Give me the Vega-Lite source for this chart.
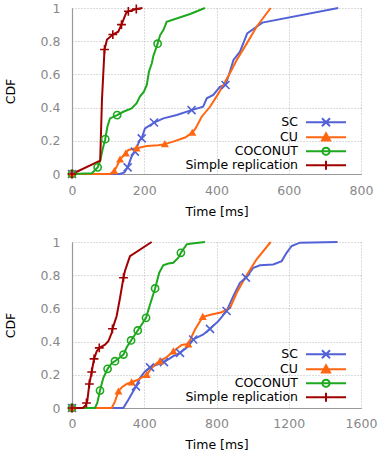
{
  "$schema": "https://vega.github.io/schema/vega-lite/v6.json",
  "padding": {"left": 4, "top": 1, "right": 8, "bottom": 4},
  "spacing": 18,
  "config": {
    "font": "DejaVu Sans",
    "view": {"stroke": null},
    "axis": {
      "labelFont": "DejaVu Sans", "labelFontSize": 12.5, "labelColor": "#888",
      "titleFont": "DejaVu Sans", "titleFontSize": 12.5, "titleFontWeight": "normal", "titleColor": "#000",
      "domainColor": "#999", "domainWidth": 1.2, "gridColor": "#b8b8b8", "gridDash": [1, 2], "gridWidth": 1, "ticks": false,
      "labelOverlap": false, "labelFlush": false, "labelBound": false
    },
    "legend": {
      "labelFont": "DejaVu Sans", "labelFontSize": 12.5, "labelColor": "#000", "padding": 0, "rowPadding": -4, "symbolSize": 36
    }
  },
  "datasets": {
    "top_lines": [
      {"series": "SC", "t": 0, "cdf": 0}, {"series": "SC", "t": 133, "cdf": 0}, {"series": "SC", "t": 145, "cdf": 0.01}, {"series": "SC", "t": 154, "cdf": 0.04}, {"series": "SC", "t": 165, "cdf": 0.105}, {"series": "SC", "t": 174, "cdf": 0.135}, {"series": "SC", "t": 188, "cdf": 0.205}, {"series": "SC", "t": 193, "cdf": 0.215}, {"series": "SC", "t": 202, "cdf": 0.275}, {"series": "SC", "t": 221, "cdf": 0.3}, {"series": "SC", "t": 227, "cdf": 0.31}, {"series": "SC", "t": 253, "cdf": 0.335}, {"series": "SC", "t": 290, "cdf": 0.355}, {"series": "SC", "t": 331, "cdf": 0.385}, {"series": "SC", "t": 363, "cdf": 0.405}, {"series": "SC", "t": 373, "cdf": 0.456}, {"series": "SC", "t": 391, "cdf": 0.476}, {"series": "SC", "t": 410, "cdf": 0.526}, {"series": "SC", "t": 425, "cdf": 0.536}, {"series": "SC", "t": 437, "cdf": 0.616}, {"series": "SC", "t": 447, "cdf": 0.687}, {"series": "SC", "t": 465, "cdf": 0.737}, {"series": "SC", "t": 485, "cdf": 0.847}, {"series": "SC", "t": 511, "cdf": 0.887}, {"series": "SC", "t": 527, "cdf": 0.912}, {"series": "SC", "t": 737, "cdf": 1},
      {"series": "CU", "t": 0, "cdf": 0}, {"series": "CU", "t": 105, "cdf": 0}, {"series": "CU", "t": 117, "cdf": 0.018}, {"series": "CU", "t": 125, "cdf": 0.05}, {"series": "CU", "t": 133, "cdf": 0.088}, {"series": "CU", "t": 149, "cdf": 0.125}, {"series": "CU", "t": 156, "cdf": 0.145}, {"series": "CU", "t": 179, "cdf": 0.155}, {"series": "CU", "t": 207, "cdf": 0.169}, {"series": "CU", "t": 239, "cdf": 0.173}, {"series": "CU", "t": 257, "cdf": 0.18}, {"series": "CU", "t": 280, "cdf": 0.195}, {"series": "CU", "t": 313, "cdf": 0.22}, {"series": "CU", "t": 333, "cdf": 0.249}, {"series": "CU", "t": 342, "cdf": 0.275}, {"series": "CU", "t": 359, "cdf": 0.345}, {"series": "CU", "t": 382, "cdf": 0.405}, {"series": "CU", "t": 400, "cdf": 0.466}, {"series": "CU", "t": 419, "cdf": 0.536}, {"series": "CU", "t": 437, "cdf": 0.607}, {"series": "CU", "t": 456, "cdf": 0.687}, {"series": "CU", "t": 484, "cdf": 0.787}, {"series": "CU", "t": 511, "cdf": 0.887}, {"series": "CU", "t": 550, "cdf": 1},
      {"series": "COCONUT", "t": 0, "cdf": 0}, {"series": "COCONUT", "t": 55, "cdf": 0.005}, {"series": "COCONUT", "t": 71, "cdf": 0.04}, {"series": "COCONUT", "t": 78, "cdf": 0.08}, {"series": "COCONUT", "t": 85, "cdf": 0.15}, {"series": "COCONUT", "t": 92, "cdf": 0.21}, {"series": "COCONUT", "t": 98, "cdf": 0.285}, {"series": "COCONUT", "t": 105, "cdf": 0.335}, {"series": "COCONUT", "t": 125, "cdf": 0.355}, {"series": "COCONUT", "t": 142, "cdf": 0.375}, {"series": "COCONUT", "t": 165, "cdf": 0.395}, {"series": "COCONUT", "t": 179, "cdf": 0.426}, {"series": "COCONUT", "t": 188, "cdf": 0.466}, {"series": "COCONUT", "t": 199, "cdf": 0.496}, {"series": "COCONUT", "t": 207, "cdf": 0.536}, {"series": "COCONUT", "t": 213, "cdf": 0.616}, {"series": "COCONUT", "t": 221, "cdf": 0.667}, {"series": "COCONUT", "t": 225, "cdf": 0.71}, {"series": "COCONUT", "t": 237, "cdf": 0.785}, {"series": "COCONUT", "t": 244, "cdf": 0.837}, {"series": "COCONUT", "t": 253, "cdf": 0.867}, {"series": "COCONUT", "t": 262, "cdf": 0.917}, {"series": "COCONUT", "t": 327, "cdf": 0.964}, {"series": "COCONUT", "t": 368, "cdf": 1},
      {"series": "Simple replication", "t": 0, "cdf": 0}, {"series": "Simple replication", "t": 78, "cdf": 0.08}, {"series": "Simple replication", "t": 83, "cdf": 0.45}, {"series": "Simple replication", "t": 90, "cdf": 0.75}, {"series": "Simple replication", "t": 97, "cdf": 0.81}, {"series": "Simple replication", "t": 113, "cdf": 0.84}, {"series": "Simple replication", "t": 128, "cdf": 0.857}, {"series": "Simple replication", "t": 137, "cdf": 0.9}, {"series": "Simple replication", "t": 150, "cdf": 0.97}, {"series": "Simple replication", "t": 156, "cdf": 0.98}, {"series": "Simple replication", "t": 178, "cdf": 0.994}, {"series": "Simple replication", "t": 195, "cdf": 1}
    ],
    "top_marks": [
      {"series": "SC", "t": 0, "cdf": 0}, {"series": "SC", "t": 154, "cdf": 0.04}, {"series": "SC", "t": 174, "cdf": 0.135}, {"series": "SC", "t": 193, "cdf": 0.215}, {"series": "SC", "t": 227, "cdf": 0.31}, {"series": "SC", "t": 331, "cdf": 0.385}, {"series": "SC", "t": 425, "cdf": 0.536},
      {"series": "CU", "t": 0, "cdf": 0}, {"series": "CU", "t": 117, "cdf": 0.018}, {"series": "CU", "t": 133, "cdf": 0.088}, {"series": "CU", "t": 149, "cdf": 0.125}, {"series": "CU", "t": 179, "cdf": 0.155}, {"series": "CU", "t": 257, "cdf": 0.18}, {"series": "CU", "t": 333, "cdf": 0.249},
      {"series": "COCONUT", "t": 0, "cdf": 0}, {"series": "COCONUT", "t": 71, "cdf": 0.04}, {"series": "COCONUT", "t": 92, "cdf": 0.21}, {"series": "COCONUT", "t": 125, "cdf": 0.355}, {"series": "COCONUT", "t": 237, "cdf": 0.785},
      {"series": "Simple replication", "t": 0, "cdf": 0}, {"series": "Simple replication", "t": 90, "cdf": 0.75}, {"series": "Simple replication", "t": 113, "cdf": 0.84}, {"series": "Simple replication", "t": 137, "cdf": 0.9}, {"series": "Simple replication", "t": 156, "cdf": 0.98}, {"series": "Simple replication", "t": 178, "cdf": 0.994}
    ],
    "bot_lines": [
      {"series": "SC", "t": 0, "cdf": 0}, {"series": "SC", "t": 284, "cdf": 0}, {"series": "SC", "t": 312, "cdf": 0.05}, {"series": "SC", "t": 354, "cdf": 0.13}, {"series": "SC", "t": 376, "cdf": 0.18}, {"series": "SC", "t": 404, "cdf": 0.22}, {"series": "SC", "t": 432, "cdf": 0.245}, {"series": "SC", "t": 478, "cdf": 0.265}, {"series": "SC", "t": 509, "cdf": 0.276}, {"series": "SC", "t": 561, "cdf": 0.312}, {"series": "SC", "t": 598, "cdf": 0.332}, {"series": "SC", "t": 644, "cdf": 0.372}, {"series": "SC", "t": 671, "cdf": 0.413}, {"series": "SC", "t": 727, "cdf": 0.443}, {"series": "SC", "t": 764, "cdf": 0.477}, {"series": "SC", "t": 810, "cdf": 0.523}, {"series": "SC", "t": 856, "cdf": 0.584}, {"series": "SC", "t": 893, "cdf": 0.674}, {"series": "SC", "t": 930, "cdf": 0.754}, {"series": "SC", "t": 963, "cdf": 0.785}, {"series": "SC", "t": 1004, "cdf": 0.845}, {"series": "SC", "t": 1041, "cdf": 0.86}, {"series": "SC", "t": 1114, "cdf": 0.865}, {"series": "SC", "t": 1161, "cdf": 0.885}, {"series": "SC", "t": 1188, "cdf": 0.935}, {"series": "SC", "t": 1216, "cdf": 0.976}, {"series": "SC", "t": 1262, "cdf": 0.996}, {"series": "SC", "t": 1470, "cdf": 1},
      {"series": "CU", "t": 0, "cdf": 0}, {"series": "CU", "t": 220, "cdf": 0}, {"series": "CU", "t": 238, "cdf": 0.04}, {"series": "CU", "t": 257, "cdf": 0.1}, {"series": "CU", "t": 276, "cdf": 0.125}, {"series": "CU", "t": 303, "cdf": 0.145}, {"series": "CU", "t": 330, "cdf": 0.155}, {"series": "CU", "t": 358, "cdf": 0.167}, {"series": "CU", "t": 414, "cdf": 0.2}, {"series": "CU", "t": 441, "cdf": 0.241}, {"series": "CU", "t": 470, "cdf": 0.271}, {"series": "CU", "t": 487, "cdf": 0.282}, {"series": "CU", "t": 524, "cdf": 0.306}, {"series": "CU", "t": 561, "cdf": 0.342}, {"series": "CU", "t": 607, "cdf": 0.38}, {"series": "CU", "t": 644, "cdf": 0.386}, {"series": "CU", "t": 681, "cdf": 0.473}, {"series": "CU", "t": 724, "cdf": 0.549}, {"series": "CU", "t": 773, "cdf": 0.563}, {"series": "CU", "t": 829, "cdf": 0.577}, {"series": "CU", "t": 875, "cdf": 0.603}, {"series": "CU", "t": 912, "cdf": 0.694}, {"series": "CU", "t": 958, "cdf": 0.785}, {"series": "CU", "t": 1022, "cdf": 0.896}, {"series": "CU", "t": 1100, "cdf": 1},
      {"series": "COCONUT", "t": 0, "cdf": 0}, {"series": "COCONUT", "t": 127, "cdf": 0}, {"series": "COCONUT", "t": 140, "cdf": 0.03}, {"series": "COCONUT", "t": 155, "cdf": 0.105}, {"series": "COCONUT", "t": 173, "cdf": 0.18}, {"series": "COCONUT", "t": 197, "cdf": 0.236}, {"series": "COCONUT", "t": 220, "cdf": 0.27}, {"series": "COCONUT", "t": 238, "cdf": 0.282}, {"series": "COCONUT", "t": 266, "cdf": 0.306}, {"series": "COCONUT", "t": 285, "cdf": 0.322}, {"series": "COCONUT", "t": 303, "cdf": 0.366}, {"series": "COCONUT", "t": 327, "cdf": 0.407}, {"series": "COCONUT", "t": 349, "cdf": 0.443}, {"series": "COCONUT", "t": 364, "cdf": 0.467}, {"series": "COCONUT", "t": 386, "cdf": 0.503}, {"series": "COCONUT", "t": 410, "cdf": 0.543}, {"series": "COCONUT", "t": 432, "cdf": 0.624}, {"series": "COCONUT", "t": 460, "cdf": 0.72}, {"series": "COCONUT", "t": 483, "cdf": 0.815}, {"series": "COCONUT", "t": 505, "cdf": 0.86}, {"series": "COCONUT", "t": 533, "cdf": 0.87}, {"series": "COCONUT", "t": 561, "cdf": 0.875}, {"series": "COCONUT", "t": 589, "cdf": 0.905}, {"series": "COCONUT", "t": 603, "cdf": 0.935}, {"series": "COCONUT", "t": 635, "cdf": 0.986}, {"series": "COCONUT", "t": 653, "cdf": 0.99}, {"series": "COCONUT", "t": 736, "cdf": 1},
      {"series": "Simple replication", "t": 0, "cdf": 0}, {"series": "Simple replication", "t": 60, "cdf": 0}, {"series": "Simple replication", "t": 76, "cdf": 0.016}, {"series": "Simple replication", "t": 85, "cdf": 0.045}, {"series": "Simple replication", "t": 96, "cdf": 0.145}, {"series": "Simple replication", "t": 109, "cdf": 0.217}, {"series": "Simple replication", "t": 122, "cdf": 0.296}, {"series": "Simple replication", "t": 137, "cdf": 0.342}, {"series": "Simple replication", "t": 151, "cdf": 0.362}, {"series": "Simple replication", "t": 183, "cdf": 0.382}, {"series": "Simple replication", "t": 201, "cdf": 0.402}, {"series": "Simple replication", "t": 220, "cdf": 0.453}, {"series": "Simple replication", "t": 224, "cdf": 0.477}, {"series": "Simple replication", "t": 238, "cdf": 0.523}, {"series": "Simple replication", "t": 247, "cdf": 0.553}, {"series": "Simple replication", "t": 266, "cdf": 0.664}, {"series": "Simple replication", "t": 285, "cdf": 0.785}, {"series": "Simple replication", "t": 293, "cdf": 0.825}, {"series": "Simple replication", "t": 321, "cdf": 0.915}, {"series": "Simple replication", "t": 441, "cdf": 1}
    ],
    "bot_marks": [
      {"series": "SC", "t": 0, "cdf": 0}, {"series": "SC", "t": 354, "cdf": 0.13}, {"series": "SC", "t": 432, "cdf": 0.245}, {"series": "SC", "t": 509, "cdf": 0.276}, {"series": "SC", "t": 598, "cdf": 0.332}, {"series": "SC", "t": 671, "cdf": 0.413}, {"series": "SC", "t": 764, "cdf": 0.477}, {"series": "SC", "t": 856, "cdf": 0.584}, {"series": "SC", "t": 963, "cdf": 0.785},
      {"series": "CU", "t": 0, "cdf": 0}, {"series": "CU", "t": 257, "cdf": 0.1}, {"series": "CU", "t": 330, "cdf": 0.155}, {"series": "CU", "t": 414, "cdf": 0.2}, {"series": "CU", "t": 487, "cdf": 0.282}, {"series": "CU", "t": 561, "cdf": 0.342}, {"series": "CU", "t": 644, "cdf": 0.384}, {"series": "CU", "t": 724, "cdf": 0.549},
      {"series": "COCONUT", "t": 0, "cdf": 0}, {"series": "COCONUT", "t": 155, "cdf": 0.105}, {"series": "COCONUT", "t": 197, "cdf": 0.236}, {"series": "COCONUT", "t": 238, "cdf": 0.282}, {"series": "COCONUT", "t": 285, "cdf": 0.322}, {"series": "COCONUT", "t": 327, "cdf": 0.407}, {"series": "COCONUT", "t": 364, "cdf": 0.467}, {"series": "COCONUT", "t": 410, "cdf": 0.543}, {"series": "COCONUT", "t": 460, "cdf": 0.72}, {"series": "COCONUT", "t": 603, "cdf": 0.935},
      {"series": "Simple replication", "t": 0, "cdf": 0}, {"series": "Simple replication", "t": 80, "cdf": 0.03}, {"series": "Simple replication", "t": 96, "cdf": 0.145}, {"series": "Simple replication", "t": 109, "cdf": 0.217}, {"series": "Simple replication", "t": 122, "cdf": 0.296}, {"series": "Simple replication", "t": 151, "cdf": 0.362}, {"series": "Simple replication", "t": 224, "cdf": 0.477}, {"series": "Simple replication", "t": 285, "cdf": 0.785}
    ]
  },
  "resolve": {
    "scale": {"x": "independent", "y": "independent", "color": "independent"},
    "legend": {"color": "independent"}
  },
  "vconcat": [
    {
      "width": 289, "height": 166,
      "layer": [
        {
          "data": {"name": "top_lines"},
          "mark": {"type": "line", "strokeWidth": 2},
          "encoding": {
            "x": {"field": "t", "type": "quantitative", "title": "Time [ms]", "scale": {"domain": [0, 800], "nice": false, "zero": false}, "axis": {"values": [0, 200, 400, 600, 800], "tickCount": 10, "format": "d", "labelPadding": 10, "titlePadding": 9}},
            "y": {"field": "cdf", "type": "quantitative", "title": "CDF", "scale": {"domain": [0, 1], "nice": false}, "axis": {"values": [0, 0.2, 0.4, 0.6, 0.8, 1], "tickCount": 10, "format": ".1~f", "labelPadding": 12, "titlePadding": 23}},
            "color": {"field": "series", "type": "nominal", "scale": {"domain": ["SC", "CU", "COCONUT", "Simple replication"], "range": ["#5262d6", "#ff6611", "#1ea81e", "#a00000"]},
              "legend": {"title": null, "orient": "none", "legendX": 200, "legendY": 108, "direction": "vertical",
                "encode": {
                  "symbols": {"update": {
                    "shape": {"signal": "datum.value === 'SC' ? 'M-5,0L5,0M-1,-1L1,1M-1,1L1,-1' : datum.value === 'CU' ? 'M-5,0L5,0M0,-1L1,0.8L-1,0.8Z' : datum.value === 'COCONUT' ? 'M-5,0L5,0M0.9,0A0.9,0.9,0,1,1,-0.9,0A0.9,0.9,0,1,1,0.9,0' : 'M-5,0L5,0M0,-1.1L0,1.1'"},
                    "fill": {"signal": "datum.value === 'CU' ? '#ff6611' : 'transparent'"},
                    "fillOpacity": {"signal": "datum.value === 'CU' ? 1 : 0"},
                    "size": {"value": 64}, "strokeWidth": {"value": 2}, "x": {"value": 54}, "opacity": {"value": 1}
                  }},
                  "labels": {"update": {"x": {"value": 26}, "align": {"value": "right"}}}
                }}
            }
          }
        },
        {
          "data": {"name": "top_marks"}, "transform": [{"filter": "datum.series === 'SC'"}],
          "mark": {"type": "point", "shape": "M-1,-1L1,1M-1,1L1,-1", "filled": false, "size": 64, "strokeWidth": 1.6, "opacity": 1},
          "encoding": {"x": {"field": "t", "type": "quantitative"}, "y": {"field": "cdf", "type": "quantitative"}, "color": {"field": "series", "type": "nominal", "legend": null}}
        },
        {
          "data": {"name": "top_marks"}, "transform": [{"filter": "datum.series === 'CU'"}],
          "mark": {"type": "point", "shape": "M0,-1L1,0.8L-1,0.8Z", "filled": true, "size": 64, "strokeWidth": 1, "opacity": 1},
          "encoding": {"x": {"field": "t", "type": "quantitative"}, "y": {"field": "cdf", "type": "quantitative"}, "color": {"field": "series", "type": "nominal", "legend": null}}
        },
        {
          "data": {"name": "top_marks"}, "transform": [{"filter": "datum.series === 'COCONUT'"}],
          "mark": {"type": "point", "shape": "circle", "filled": false, "size": 52, "strokeWidth": 1.6, "opacity": 1},
          "encoding": {"x": {"field": "t", "type": "quantitative"}, "y": {"field": "cdf", "type": "quantitative"}, "color": {"field": "series", "type": "nominal", "legend": null}}
        },
        {
          "data": {"name": "top_marks"}, "transform": [{"filter": "datum.series === 'Simple replication'"}],
          "mark": {"type": "point", "shape": "M-1.1,0L1.1,0M0,-1.1L0,1.1", "filled": false, "size": 64, "strokeWidth": 1.6, "opacity": 1},
          "encoding": {"x": {"field": "t", "type": "quantitative"}, "y": {"field": "cdf", "type": "quantitative"}, "color": {"field": "series", "type": "nominal", "legend": null}}
        }
      ]
    },
    {
      "width": 289, "height": 166,
      "layer": [
        {
          "data": {"name": "bot_lines"},
          "mark": {"type": "line", "strokeWidth": 2},
          "encoding": {
            "x": {"field": "t", "type": "quantitative", "title": "Time [ms]", "scale": {"domain": [0, 1600], "nice": false, "zero": false}, "axis": {"values": [0, 400, 800, 1200, 1600], "tickCount": 10, "format": "d", "labelPadding": 9, "titlePadding": 9}},
            "y": {"field": "cdf", "type": "quantitative", "title": "CDF", "scale": {"domain": [0, 1], "nice": false}, "axis": {"values": [0, 0.2, 0.4, 0.6, 0.8, 1], "tickCount": 10, "format": ".1~f", "labelPadding": 12, "titlePadding": 23}},
            "color": {"field": "series", "type": "nominal", "scale": {"domain": ["SC", "CU", "COCONUT", "Simple replication"], "range": ["#5262d6", "#ff6611", "#1ea81e", "#a00000"]},
              "legend": {"title": null, "orient": "none", "legendX": 200, "legendY": 106, "direction": "vertical",
                "encode": {
                  "symbols": {"update": {
                    "shape": {"signal": "datum.value === 'SC' ? 'M-5,0L5,0M-1,-1L1,1M-1,1L1,-1' : datum.value === 'CU' ? 'M-5,0L5,0M0,-1L1,0.8L-1,0.8Z' : datum.value === 'COCONUT' ? 'M-5,0L5,0M0.9,0A0.9,0.9,0,1,1,-0.9,0A0.9,0.9,0,1,1,0.9,0' : 'M-5,0L5,0M0,-1.1L0,1.1'"},
                    "fill": {"signal": "datum.value === 'CU' ? '#ff6611' : 'transparent'"},
                    "fillOpacity": {"signal": "datum.value === 'CU' ? 1 : 0"},
                    "size": {"value": 64}, "strokeWidth": {"value": 2}, "x": {"value": 54}, "opacity": {"value": 1}
                  }},
                  "labels": {"update": {"x": {"value": 26}, "align": {"value": "right"}}}
                }}
            }
          }
        },
        {
          "data": {"name": "bot_marks"}, "transform": [{"filter": "datum.series === 'SC'"}],
          "mark": {"type": "point", "shape": "M-1,-1L1,1M-1,1L1,-1", "filled": false, "size": 64, "strokeWidth": 1.6, "opacity": 1},
          "encoding": {"x": {"field": "t", "type": "quantitative"}, "y": {"field": "cdf", "type": "quantitative"}, "color": {"field": "series", "type": "nominal", "legend": null}}
        },
        {
          "data": {"name": "bot_marks"}, "transform": [{"filter": "datum.series === 'CU'"}],
          "mark": {"type": "point", "shape": "M0,-1L1,0.8L-1,0.8Z", "filled": true, "size": 64, "strokeWidth": 1, "opacity": 1},
          "encoding": {"x": {"field": "t", "type": "quantitative"}, "y": {"field": "cdf", "type": "quantitative"}, "color": {"field": "series", "type": "nominal", "legend": null}}
        },
        {
          "data": {"name": "bot_marks"}, "transform": [{"filter": "datum.series === 'COCONUT'"}],
          "mark": {"type": "point", "shape": "circle", "filled": false, "size": 52, "strokeWidth": 1.6, "opacity": 1},
          "encoding": {"x": {"field": "t", "type": "quantitative"}, "y": {"field": "cdf", "type": "quantitative"}, "color": {"field": "series", "type": "nominal", "legend": null}}
        },
        {
          "data": {"name": "bot_marks"}, "transform": [{"filter": "datum.series === 'Simple replication'"}],
          "mark": {"type": "point", "shape": "M-1.1,0L1.1,0M0,-1.1L0,1.1", "filled": false, "size": 64, "strokeWidth": 1.6, "opacity": 1},
          "encoding": {"x": {"field": "t", "type": "quantitative"}, "y": {"field": "cdf", "type": "quantitative"}, "color": {"field": "series", "type": "nominal", "legend": null}}
        }
      ]
    }
  ]
}
